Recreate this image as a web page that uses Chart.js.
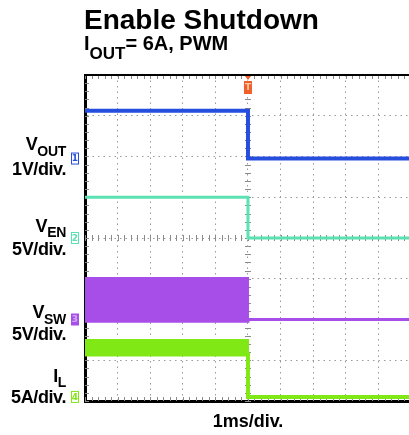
<!DOCTYPE html>
<html>
<head>
<meta charset="utf-8">
<title>Enable Shutdown</title>
<script src="https://cdn.jsdelivr.net/npm/chart.js@4.4.1/dist/chart.umd.min.js"></script>
<style>
  body { margin: 0; background: #fff; overflow: hidden; }
  #wrap { position: relative; width: 409px; height: 435px; font-family: "Liberation Sans", Arial, sans-serif; color: #000; }
  #scope { position: absolute; left: 0; top: 0; }
  .t { position: absolute; white-space: nowrap; font-weight: bold; line-height: 1; }
  .lbl { position: absolute; right: 343px; text-align: right; font-size: 18px; font-weight: bold; line-height: 18px; letter-spacing: -0.4px; white-space: nowrap; }
  .s { position: relative; font-size: 14px; letter-spacing: -0.3px; }
</style>
</head>
<body>
<div id="wrap">
  <canvas id="scope" width="409" height="435"></canvas>

  <div class="t" style="left:84px; top:6px; font-size:28px; line-height:28px;">Enable Shutdown</div>
  <div class="t" style="left:84px; top:33px; font-size:20px; line-height:20px;">I<span style="position:relative; top:9px; font-size:17px;">OUT</span>= 6A, PWM</div>

  <div class="lbl" style="top:135px;">V<span class="s" style="top:6px;">OUT</span></div>
  <div class="lbl" style="top:160px;">1V/div.</div>
  <div class="lbl" style="top:217px;">V<span class="s" style="top:5px;">EN</span></div>
  <div class="lbl" style="top:240px;">5V/div.</div>
  <div class="lbl" style="top:303px;">V<span class="s" style="top:6px;">SW</span></div>
  <div class="lbl" style="top:325px;">5V/div.</div>
  <div class="lbl" style="top:367px;">I<span class="s" style="top:5px;">L</span></div>
  <div class="lbl" style="top:388px;">5A/div.</div>

  <div class="t" style="left:148px; width:200px; text-align:center; top:412px; font-size:18px; line-height:18px;">1ms/div.</div>
</div>

<script>
// time axis in ms (trigger at 0, 1ms/div)
var timeMs = [-5, 0, 0, 5];

// channel readings, in volts / amps
var voutV = [1.17, 1.17, 0, 0];
var venV = [5.0, 5.0, 0, 0];
var vswHighV = [5.1, 5.1, 0, 0];
var vswLowV = [-0.2, -0.2, 0, 0];
var ilHighA = [7.0, 7.0, 0, 0];
var ilLowA = [5.2, 5.2, 0, 0];

// scope channel setup: units per division and ground marker (divisions from bottom)
var ch1 = { perDiv: 1, ground: 5.95, color: "rgb(38,78,222)", label: "1" };
var ch2 = { perDiv: 5, ground: 4.0, color: "rgb(92,226,178)", label: "2" };
var ch3 = { perDiv: 5, ground: 2.0, color: "rgb(168,78,232)", label: "3" };
var ch4 = { perDiv: 5, ground: 0.1, color: "rgb(128,232,20)", label: "4" };

function trace(vals, c) {
    return timeMs.map(function (t, i) {
        return { x: t, y: c.ground + vals[i] / c.perDiv };
    });
}

// frame, minor ticks, channel & trigger markers
var scopeDecor = {
    id: 'scopeDecor',
    beforeDatasetsDraw: function (chart) {
        var ctx = chart.ctx, a = chart.chartArea;
        var xs = chart.scales.x, ys = chart.scales.y;
        ctx.save();
        ctx.strokeStyle = "#8a8a8a";
        ctx.lineWidth = 1;
        ctx.beginPath();
        var cy = ys.getPixelForValue(4), cx = xs.getPixelForValue(0);
        for (var t = -5; t <= 5; t += 0.2) {
            var px = Math.round(xs.getPixelForValue(t)) + 0.5;
            if (px > a.right) break;
            ctx.moveTo(px, cy - 3); ctx.lineTo(px, cy + 3);
            ctx.moveTo(px, a.top); ctx.lineTo(px, a.top + 4);
            ctx.moveTo(px, a.bottom); ctx.lineTo(px, a.bottom - 4);
        }
        for (var d = 0; d <= 8; d += 0.2) {
            var py = Math.round(ys.getPixelForValue(d)) + 0.5;
            ctx.moveTo(cx - 3, py); ctx.lineTo(cx + 3, py);
            ctx.moveTo(a.left, py); ctx.lineTo(a.left + 4, py);
        }
        ctx.stroke();
        ctx.restore();
    },
    afterDraw: function (chart) {
        var ctx = chart.ctx, a = chart.chartArea;
        var xs = chart.scales.x, ys = chart.scales.y;
        ctx.save();
        // top edge of the graticule
        ctx.strokeStyle = "#000";
        ctx.lineWidth = 2;
        ctx.beginPath();
        ctx.moveTo(a.left - 1, a.top);
        ctx.lineTo(a.right, a.top);
        ctx.stroke();

        // channel ground markers
        ctx.font = "bold 9px 'DejaVu Sans', sans-serif";
        ctx.textAlign = "center";
        ctx.textBaseline = "middle";
        [ch1, ch2, ch3, ch4].forEach(function (c) {
            var y = ys.getPixelForValue(c.ground);
            var x0 = a.left - 14;
            ctx.lineWidth = 1;
            if (c === ch3) {
                ctx.fillStyle = c.color;
                ctx.fillRect(x0, y - 6, 8, 12);
                ctx.fillStyle = "rgb(210,170,250)";
            } else {
                ctx.fillStyle = "rgba(255,255,255,0.9)";
                ctx.fillRect(x0, y - 6, 8, 12);
                ctx.strokeStyle = c.color;
                ctx.strokeRect(x0 + 0.5, y - 5.5, 7, 11);
                ctx.fillStyle = c.color;
            }
            ctx.fillText(c.label, x0 + 4, y + 0.5);
        });

        // trigger position marker
        var tx = xs.getPixelForValue(0);
        ctx.fillStyle = "rgb(240,96,40)";
        ctx.beginPath();
        ctx.moveTo(tx - 3, a.top + 1);
        ctx.lineTo(tx + 3, a.top + 1);
        ctx.lineTo(tx, a.top + 5);
        ctx.closePath();
        ctx.fill();
        ctx.fillRect(tx - 4, a.top + 6, 8, 13);
        ctx.fillStyle = "rgb(255,200,170)";
        ctx.font = "bold 9px 'DejaVu Sans', sans-serif";
        ctx.fillText("T", tx, a.top + 13);
        ctx.restore();
    }
};

var ctx = document.getElementById("scope").getContext('2d');
var scopeChart = new Chart(ctx, {
    type: 'line',
    data: {
        datasets: [
            {
                label: "VOUT",
                data: trace(voutV, ch1),
                borderColor: ch1.color,
                borderWidth: 4
            },
            {
                label: "VEN",
                data: trace(venV, ch2),
                borderColor: ch2.color,
                borderWidth: 3
            },
            {
                label: "VSW",
                data: trace(vswHighV, ch3),
                borderColor: ch3.color,
                backgroundColor: ch3.color,
                borderWidth: 2,
                fill: '+1'
            },
            {
                label: "VSW low",
                data: trace(vswLowV, ch3),
                borderColor: ch3.color,
                borderWidth: 3
            },
            {
                label: "IL",
                data: trace(ilHighA, ch4),
                borderColor: ch4.color,
                backgroundColor: ch4.color,
                borderWidth: 2,
                fill: '+1'
            },
            {
                label: "IL low",
                data: trace(ilLowA, ch4),
                borderColor: ch4.color,
                borderWidth: 4
            }
        ]
    },
    options: {
        responsive: false,
        animation: false,
        layout: { padding: { left: 85, top: 75, right: 0, bottom: 34 } },
        elements: { point: { radius: 0 }, line: { tension: 0 } },
        plugins: { legend: { display: false }, tooltip: { enabled: false } },
        scales: {
            x: {
                type: 'linear',
                min: -5,
                max: 4.94,
                ticks: { display: false, stepSize: 1, includeBounds: false },
                grid: { color: "#9a9a9a", lineWidth: 1, drawTicks: false },
                border: { display: true, color: "#000", width: 3, dash: [1.5, 4] }
            },
            y: {
                min: 0,
                max: 8,
                ticks: { display: false, stepSize: 1 },
                grid: { color: "#9a9a9a", lineWidth: 1, drawTicks: false },
                border: { display: true, color: "#000", width: 3, dash: [1.5, 4] }
            }
        }
    },
    plugins: [scopeDecor]
});
</script>
</body>
</html>
